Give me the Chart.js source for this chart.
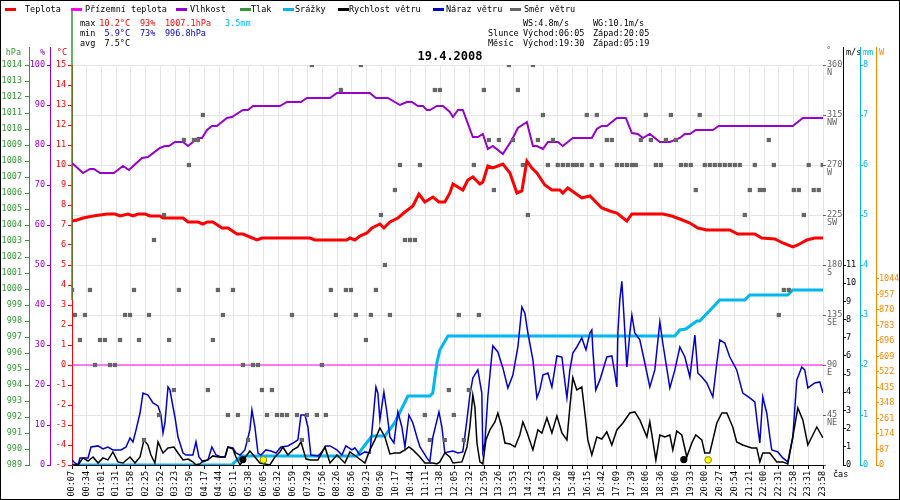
<!DOCTYPE html>
<html>
<head>
<meta charset="utf-8">
<script src="https://cdn.jsdelivr.net/npm/chart.js@4.4.0/dist/chart.umd.min.js"></script>
<style>
html, body { margin: 0; padding: 0; background: #fff; }
#wrap { width: 900px; height: 500px; position: relative; }
</style>
</head>
<body>
<div id="wrap"><canvas id="c"></canvas></div>
<script>
// x positions are label slots: 0 = 00:07 ... 51 = 23:58
const timeLabels = ['00:07','00:34','01:01','01:31','01:58','02:25','02:52','03:23','03:50','04:17',
  '04:44','05:11','05:38','06:05','06:32','06:59','07:29','07:56','08:26','08:56',
  '09:23','09:50','10:17','10:44','11:11','11:38','12:05','12:32','12:59','13:26',
  '13:53','14:23','14:53','15:20','15:48','16:15','16:42','17:09','17:39','18:06',
  '18:36','19:06','19:33','20:00','20:27','20:54','21:21','22:00','22:31','22:58',
  '23:31','23:58'];

// °C
const temperature = [[0,7.2],[0.34,7.25],[0.75,7.35],[1.43,7.45],[2.38,7.55],[2.92,7.55],[3.26,7.45],
  [3.8,7.55],[4.14,7.45],[4.48,7.55],[4.96,7.55],[5.3,7.45],[5.97,7.45],[6.18,7.35],[7.54,7.35],
  [7.88,7.15],[8.55,7.15],[8.89,7.05],[9.17,7.15],[9.57,7.15],[10.18,6.85],[10.59,6.85],[11.2,6.55],
  [11.61,6.55],[12.08,6.4],[12.56,6.25],[12.9,6.35],[16.16,6.35],[16.5,6.25],[18.67,6.25],[18.87,6.35],
  [19.21,6.25],[19.55,6.45],[20.03,6.6],[20.37,6.85],[20.91,7.05],[21.18,6.85],[21.59,7.15],[22.13,7.35],
  [22.61,7.65],[23.15,7.95],[23.56,8.55],[23.96,8.15],[24.51,8.4],[24.92,8.15],[25.32,8.15],[25.66,8.6],
  [25.87,9.05],[26.54,8.75],[26.88,9.25],[27.22,9.4],[27.7,9.05],[27.9,9.15],[28.24,9.95],[28.58,9.85],
  [29.26,10.05],[29.74,9.6],[30.21,8.6],[30.55,8.7],[30.89,10.2],[31.23,9.85],[31.57,9.6],[32.11,9.0],
  [32.59,8.75],[33.13,8.75],[33.33,8.6],[33.67,8.85],[34.15,8.6],[34.62,8.35],[35.17,8.45],[35.98,7.85],
  [36.52,7.7],[37.0,7.6],[37.68,7.2],[38.02,7.55],[39.1,7.55],[40.12,7.55],[40.73,7.45],[41.28,7.3],
  [41.96,7.1],[42.5,6.85],[43.11,6.75],[44.67,6.75],[45.21,6.55],[46.37,6.55],[46.84,6.35],[47.73,6.3],
  [48.27,6.1],[48.95,5.9],[49.29,6.0],[49.9,6.25],[50.44,6.35],[51,6.35]];

// °C, ground temperature (flat)
const groundTemp = [[0,0],[51,0]];

// %
const humidity = [[0,75.5],[0.75,73],[1.22,74],[1.49,74],[1.9,73],[2.85,73],[3.46,74.75],[3.87,73.75],
  [4.75,76.75],[5.16,77],[5.97,79.25],[6.31,79.75],[6.59,79.75],[6.99,80.75],[7.54,80.75],[7.88,79.75],
  [8.21,80.75],[8.55,81.75],[8.83,81.75],[9.17,83.75],[9.5,84.75],[9.84,84.75],[10.52,86.75],[10.86,87],
  [11.61,88.75],[11.95,88.75],[12.29,89.75],[14.12,89.75],[14.6,90.75],[15.55,90.75],[15.95,91.75],
  [17.52,91.75],[17.99,93],[20.23,93],[20.64,91.75],[21.45,91.75],[22.27,90],[22.74,90.75],[23.08,90.75],
  [23.49,89.75],[23.83,89.75],[24.1,88.75],[24.3,88.75],[24.78,89.75],[25.19,89.75],[25.66,88.25],
  [25.87,87],[26.21,88.75],[26.54,88.75],[27.22,82],[27.56,82],[27.9,82.75],[28.24,79],[28.58,79.75],
  [29.26,77.75],[29.87,81.25],[30.28,84.25],[30.89,85.75],[31.3,79.75],[31.57,79.75],[31.98,79],
  [32.32,80.75],[32.99,80.75],[33.33,79.75],[34.01,81.75],[35.3,81.75],[35.64,84],[35.98,84.75],
  [36.32,84.75],[37.0,86.75],[37.61,86.75],[38.02,83],[38.43,82.75],[38.77,81.75],[39.24,82.75],
  [39.92,80.75],[40.6,80.75],[41.28,81.75],[41.62,82.75],[41.96,82.75],[42.36,83.75],[43.52,83.75],
  [43.92,84.75],[48.95,84.75],[49.63,86.75],[51,86.75]];

// hPa
const pressure = [[0,1017.4],[0,999.3]];

// mm, running total
const rainTotal = [[0,0],[10.86,0],[11.47,0.18],[19.35,0.18],[19.69,0.32],[20.37,0.58],[21.25,0.58],
  [21.93,0.85],[22.81,1.38],[24.3,1.38],[24.5,1.44],[24.78,2.04],[24.98,2.3],[25.53,2.58],[40.94,2.58],
  [41.28,2.7],[41.68,2.72],[42.43,2.88],[42.63,2.88],[43.99,3.3],[45.69,3.3],[46.03,3.4],[48.61,3.4],
  [48.95,3.5],[51,3.5]];

// m/s
const windSpeed = [[0,0],[0.41,0],[0.75,0.39],[1.09,0.22],[1.43,0.44],[1.77,0.11],[2.1,0.39],[2.44,0.28],
  [2.78,0.72],[3.12,0.17],[3.46,0.11],[3.94,0.44],[4.28,0.11],[4.62,0.44],[4.89,1.38],[5.16,1.1],
  [5.36,0.55],[5.63,0.11],[5.84,1.27],[6.18,0.66],[6.52,0.94],[6.92,0.99],[7.2,0.66],[7.54,0.28],
  [7.88,0.33],[8.21,0.17],[8.42,0],[8.69,0.06],[8.89,0.22],[9.23,0.28],[9.57,0.5],[9.91,0.44],
  [10.39,0.44],[10.59,0.99],[10.93,0.88],[11.13,0.44],[11.41,0],[11.74,0.39],[12.08,0.77],[12.42,0.44],
  [12.76,0.11],[13.1,0.06],[13.44,0],[13.78,0.44],[14.12,0.72],[14.32,0.99],[14.66,0.55],[15.0,0.83],
  [15.34,0.99],[15.55,1.27],[15.89,0.33],[16.22,0.28],[16.7,0.28],[17.18,0.99],[17.52,0.11],[17.99,0.55],
  [18.53,0.11],[18.87,0.72],[19.35,0.44],[19.89,0.11],[20.23,0.83],[20.57,1.38],[20.91,2.04],[21.25,1.54],
  [21.59,0.61],[21.93,0.66],[22.27,0.66],[22.61,0.83],[22.88,0.99],[23.15,0.83],[23.63,0.44],[23.96,0.11],
  [24.51,0.11],[24.78,0.06],[24.98,0.17],[25.32,0.66],[25.66,0.44],[25.87,0.11],[26.48,0.17],[26.82,0.99],
  [27.02,2.09],[27.22,3.85],[27.36,3.19],[27.5,1.21],[27.7,0.17],[27.9,0.06],[28.11,1.38],[28.38,1.93],
  [28.72,2.37],[28.92,2.86],[29.19,2.09],[29.4,1.21],[29.74,1.16],[30.08,0.99],[30.41,1.65],[30.62,2.37],
  [30.89,1.82],[31.3,0.83],[31.64,1.93],[31.91,1.76],[32.25,2.59],[32.59,1.76],[32.93,2.7],[33.27,1.76],
  [33.61,1.38],[33.81,3.19],[34.01,4.8],[34.28,4.13],[34.62,4.29],[34.83,2.86],[35.03,1.38],[35.3,0.55],
  [35.64,1.54],[35.98,1.43],[36.32,1.82],[36.66,1.1],[37.0,1.93],[37.41,2.31],[37.88,2.86],[38.22,2.92],
  [38.56,2.48],[39.04,1.54],[39.24,2.37],[39.65,0.28],[39.92,1.65],[40.26,1.54],[40.6,1.65],[40.8,0.83],
  [41.07,1.87],[41.41,1.65],[41.75,0.44],[42.09,1.21],[42.36,1.65],[42.77,1.38],[42.97,0.66],[43.31,0.66],
  [43.79,2.31],[44.13,2.86],[44.47,2.86],[44.87,2.09],[45.14,1.27],[45.55,1.1],[46.16,0.94],[46.5,0.94],
  [46.71,0.17],[46.91,0.66],[47.39,0.66],[47.86,0.17],[48.27,0.17],[48.61,0.06],[48.95,1.54],[49.29,3.14],
  [49.63,2.48],[49.97,1.1],[50.58,2.09],[51,1.49]];

// m/s
const windGust = [[0,0.28],[0.2,0.11],[0.41,0],[0.54,0.39],[1.09,0.39],[1.29,0.99],[1.77,1.05],[2.1,0.88],
  [2.44,0.99],[2.78,0.83],[3.33,0.83],[3.67,0.99],[3.94,1.49],[4.14,1.27],[4.35,1.93],[4.62,2.86],
  [4.82,3.96],[5.16,3.85],[5.5,3.41],[5.84,3.25],[6.04,2.75],[6.18,1.76],[6.31,2.31],[6.52,4.29],
  [6.65,4.13],[6.86,3.19],[6.99,2.64],[7.2,1.54],[7.54,0.66],[7.74,0.55],[8.21,0.55],[8.42,1.27],
  [8.62,0.44],[8.89,0.17],[9.23,0.28],[9.5,0.99],[9.78,0.55],[10.12,0.44],[10.39,0.44],[10.59,0.99],
  [10.93,0.94],[11.13,0.66],[11.41,0.55],[11.74,0.83],[12.08,1.93],[12.22,3.03],[12.42,2.09],[12.63,0.66],
  [12.83,0.55],[13.17,0.83],[13.51,0.77],[13.85,0.66],[14.19,0.99],[14.66,1.05],[15.14,1.27],[15.34,1.38],
  [15.55,2.75],[15.82,2.75],[16.02,2.09],[16.22,0.55],[16.7,0.5],[16.97,0.72],[17.24,1.05],[17.52,1.05],
  [17.99,0.83],[18.33,0.55],[18.6,1.05],[19.01,0.83],[19.21,0.94],[19.55,0.55],[19.89,0.72],[20.23,0.66],
  [20.44,2.48],[20.64,4.29],[20.77,3.96],[20.91,2.48],[21.18,4.02],[21.39,2.86],[21.59,1.54],[21.86,1.21],
  [22.13,2.92],[22.4,2.09],[22.61,0.99],[22.88,2.75],[23.15,2.31],[23.42,1.54],[23.63,0.99],[24.1,0.39],
  [24.3,0.17],[24.51,1.54],[24.92,2.92],[25.12,2.09],[25.32,0.66],[25.53,0.72],[25.87,0.77],[26.21,0.66],
  [26.54,0.72],[26.82,2.48],[27.02,3.85],[27.22,4.79],[27.56,5.23],[27.83,3.96],[27.9,0.72],[28.04,1.21],
  [28.24,3.74],[28.51,6.05],[28.58,6.55],[28.92,6.22],[29.26,5.34],[29.6,4.24],[29.94,4.95],[30.28,6.49],
  [30.55,8.69],[30.75,8.36],[30.96,7.26],[31.3,5.78],[31.57,3.69],[31.77,4.13],[31.98,4.95],[32.32,5.06],
  [32.59,4.29],[32.93,6.0],[33.27,5.94],[33.47,4.57],[33.61,3.69],[33.81,5.23],[34.01,6.16],[34.28,6.49],
  [34.62,6.99],[34.9,6.33],[35.17,7.26],[35.3,7.43],[35.37,6.33],[35.57,4.13],[35.85,4.68],[36.32,5.94],
  [36.66,6.0],[36.86,5.06],[37.0,4.29],[37.07,7.26],[37.2,9.08],[37.34,10.1],[37.47,8.36],[37.68,5.39],
  [37.88,7.26],[38.02,8.25],[38.22,7.26],[38.56,6.88],[38.9,5.61],[39.24,4.29],[39.58,5.23],[39.92,7.87],
  [40.12,6.71],[40.6,4.24],[40.94,5.23],[41.28,6.49],[41.62,5.94],[41.96,4.84],[42.3,7.15],[42.5,5.06],
  [42.77,4.84],[43.11,4.51],[43.52,3.74],[43.79,5.61],[43.99,6.88],[44.33,6.71],[44.67,5.94],[45.14,5.23],
  [45.55,3.96],[46.03,3.69],[46.37,3.47],[46.57,2.09],[46.71,1.21],[46.91,3.74],[47.18,2.86],[47.39,1.54],
  [47.52,0.83],[47.93,0.72],[48.27,0.39],[48.61,0.17],[48.95,1.54],[49.22,4.68],[49.56,5.39],[49.76,5.23],
  [49.97,4.24],[50.44,4.51],[50.78,4.57],[51,3.96]];

// degrees
const windDir = [
  [16.29,360],[19.62,360],[29.67,360],[31.3,360],
  [18.26,337.5],[24.64,337.5],[24.98,337.5],[27.97,337.5],[30.28,337.5],
  [8.89,315],[31.98,315],[34.96,315],[35.64,315],[38.97,315],[40.67,315],[42.63,315],
  [7.6,292.5],[8.28,292.5],[8.55,292.5],[28.31,292.5],[28.99,292.5],[29.94,292.5],[31.64,292.5],
  [32.66,292.5],[36.32,292.5],[36.66,292.5],[38.63,292.5],[39.31,292.5],[40.33,292.5],[41.01,292.5],[47.32,292.5],
  [7.94,270],[22.27,270],[23.63,270],[27.29,270],[30.62,270],[32.32,270],[32.99,270],[33.33,270],[33.67,270],
  [34.01,270],[34.28,270],[34.62,270],[35.3,270],[35.98,270],[37.0,270],[37.34,270],[37.68,270],[38.02,270],
  [38.29,270],[39.65,270],[39.99,270],[41.35,270],[41.68,270],[42.02,270],[42.97,270],[43.31,270],[43.65,270],
  [43.99,270],[44.33,270],[44.67,270],[45.01,270],[45.35,270],[46.37,270],[47.66,270],[50.03,270],[50.98,270],
  [21.93,247.5],[28.65,247.5],[42.36,247.5],[46.03,247.5],[46.71,247.5],[46.98,247.5],[49.02,247.5],
  [49.36,247.5],[50.37,247.5],[50.71,247.5],
  [6.25,225],[20.98,225],[30.96,225],[45.69,225],[49.7,225],
  [5.57,202.5],[22.61,202.5],[22.95,202.5],[23.29,202.5],
  [21.25,180],
  [0,157.5],[1.22,157.5],[4.21,157.5],[7.26,157.5],[9.91,157.5],[10.93,157.5],[17.58,157.5],[18.6,157.5],
  [18.94,157.5],[20.64,157.5],[48.34,157.5],[48.68,157.5],
  [0.2,135],[0.88,135],[3.6,135],[3.94,135],[5.23,135],[10.25,135],[14.94,135],[17.92,135],[19.28,135],
  [20.3,135],[21.59,135],[26.27,135],[27.63,135],[48.0,135],
  [0.54,112.5],[1.9,112.5],[2.24,112.5],[3.26,112.5],[4.55,112.5],[6.59,112.5],[9.57,112.5],[19.96,112.5],
  [1.56,90],[2.58,90],[2.92,90],[11.61,90],[12.29,90],[12.63,90],[16.97,90],
  [6.92,67.5],[9.23,67.5],[12.9,67.5],[13.58,67.5],[25.59,67.5],[26.95,67.5],
  [5.91,45],[10.59,45],[11.27,45],[13.24,45],[13.92,45],[14.26,45],[14.6,45],[15.28,45],[15.95,45],
  [16.63,45],[17.24,45],[23.96,45],[25.93,45],
  [4.89,22.5],[11.95,22.5],[15.61,22.5],[24.3,22.5],[25.32,22.5],[26.61,22.5]];

const sunMarks = [[13.0,0.28],[43.2,0.28]];
const moonMarks = [[11.6,0.3],[41.55,0.3]];

const dirTicks = [45,90,135,180,225,270,315,360];
const dirNames = ['NE','E','SE','S','SW','W','NW','N'];
const solarTicks = [0,87,174,261,348,435,522,609,696,783,870,957,1044];

const statsMax = ['10.2°C','93%','1007.1hPa','3.5mm'];
const statsMin = ['5.9°C','73%','996.8hPa'];
const statsAvg = ['7.5°C'];
const windMax = ['WS:4.8m/s','WG:10.1m/s'];
const sunTimes = ['Východ:06:05','Západ:20:05'];
const moonTimes = ['Východ:19:30','Západ:05:19'];
const dayTitle = '19.4.2008';

const C = {
  temp: '#ff0000', ground: '#ff00ff', hum: '#9900cc', press: '#339933', rain: '#00b8f0',
  wind: '#000000', gust: '#0000cc', dir: '#666666', solar: '#ff8800', grid: '#e6e6e6'
};
const MONO = '"DejaVu Sans Mono", monospace';

const legendNames = ['Teplota','Přízemní teplota','Vlhkost','Tlak','Srážky','Rychlost větru','Náraz větru','Směr větru'];
const legendColors = [C.temp, C.ground, C.hum, C.press, C.rain, C.wind, C.gust, C.dir];
const legendSegX = [5, 71, 176, 240, 283, 338, 433, 510];
const legendTextX = [25, 85, 190, 251, 295, 349, 446, 524];

const toPts = arr => arr.map(([x, y]) => ({ x, y }));
const fixW = w => s => { s.width = w; };
const range = (a, b, step) => { const r = []; for (let v = a; v <= b + 1e-9; v += step) r.push(v); return r; };
const useTicks = vals => s => { s.ticks = vals.map(v => ({ value: v })); };

const headerPlugin = {
  id: 'header',
  afterDraw(chart) {
    const ctx = chart.ctx;
    const area = chart.chartArea;
    ctx.save();
    ctx.font = '8.5px ' + MONO;
    ctx.textBaseline = 'middle';

    // legend
    legendNames.forEach((name, i) => {
      ctx.fillStyle = legendColors[i];
      ctx.fillRect(legendSegX[i], 8, 11, 3);
      ctx.fillStyle = '#000';
      ctx.textAlign = 'left';
      ctx.fillText(name, legendTextX[i], 9.5);
    });

    // stats block
    const put = (t, x, y, col, align) => { ctx.fillStyle = col; ctx.textAlign = align || 'left'; ctx.fillText(t, x, y); };
    put('max', 80, 24, '#000'); put('min', 80, 34, '#000'); put('avg', 80, 44, '#000');
    put(statsMax[0], 130, 24, C.temp, 'right'); put(statsMax[1], 140, 24, C.temp);
    put(statsMax[2], 165, 24, C.temp); put(statsMax[3], 225, 24, C.rain);
    put(statsMin[0], 130, 34, C.gust, 'right'); put(statsMin[1], 140, 34, C.gust);
    put(statsMin[2], 165, 34, C.gust);
    put(statsAvg[0], 130, 44, '#000', 'right');
    put(windMax[0], 523, 24, '#000'); put(windMax[1], 593, 24, '#000');
    put('Slunce', 488, 34, '#000'); put(sunTimes[0], 523, 34, '#000'); put(sunTimes[1], 593, 34, '#000');
    put('Měsíc', 488, 44, '#000'); put(moonTimes[0], 523, 44, '#000'); put(moonTimes[1], 593, 44, '#000');

    // units above axes
    put('hPa', 21, 53, C.press, 'right');
    put('%', 45, 53, C.hum, 'right');
    put('°C', 67, 53, C.temp, 'right');
    put('°', 826, 51, C.dir);
    put('m/s', 846, 53, '#000');
    put('mm', 863, 53, C.rain);
    put('W', 879, 53, C.solar);
    put('čas', 833, 475, '#000');

    // axis lines continue up to the unit labels
    [['yP', C.press, 'right'], ['yH', C.hum, 'right'], ['yW', '#000', 'left'],
     ['yR', C.rain, 'left'], ['yS', C.solar, 'left']].forEach(([id, col, side]) => {
      const s = chart.scales[id];
      const x = Math.round(s[side]) + 0.5;
      ctx.strokeStyle = col; ctx.lineWidth = 1;
      ctx.beginPath(); ctx.moveTo(x, 47); ctx.lineTo(x, area.top); ctx.stroke();
    });

    // title
    ctx.font = 'bold 12px ' + MONO;
    put(dayTitle, 450, 57, '#000', 'center');

    // frame
    ctx.strokeStyle = '#000'; ctx.lineWidth = 1;
    ctx.strokeRect(0.5, 0.5, 899, 499);
    ctx.restore();
  }
};

const lineSet = (label, data, axis, color, width, order, extra) => Object.assign({
  label, data: toPts(data), yAxisID: axis, borderColor: color, backgroundColor: color,
  borderWidth: width, pointRadius: 0, pointHoverRadius: 0, tension: 0, fill: false, order
}, extra || {});

const yAxis = (pos, weight, width, min, max, ticks, color, tickLen, pad, extra) => Object.assign({
  type: 'linear', position: pos, weight, min, max,
  afterFit: fixW(width), afterBuildTicks: useTicks(ticks),
  border: { color, width: 1 },
  grid: { drawOnChartArea: false, color, tickLength: tickLen },
  ticks: { color, padding: pad, font: { family: MONO, size: 8.5 }, callback: v => String(v) }
}, extra || {});

Chart.defaults.font.family = MONO;
Chart.defaults.font.size = 8.5;

new Chart(document.getElementById('c'), {
  type: 'line',
  data: {
    datasets: [
      lineSet('Teplota', temperature, 'yT', C.temp, 3, 3),
      lineSet('Přízemní teplota', groundTemp, 'yT', C.ground, 1, 8),
      lineSet('Vlhkost', humidity, 'yH', C.hum, 2, 4),
      lineSet('Tlak', pressure, 'yP', C.press, 1.5, 9, { clip: false }),
      lineSet('Srážky', rainTotal, 'yR', C.rain, 3, 7),
      lineSet('Rychlost větru', windSpeed, 'yW', C.wind, 1.5, 5),
      lineSet('Náraz větru', windGust, 'yW', C.gust, 1.5, 6),
      lineSet('Směr větru', windDir, 'yD', C.dir, 0, 2,
        { showLine: false, pointRadius: 3, pointStyle: 'rect', backgroundColor: C.dir }),
      lineSet('Slunce', sunMarks, 'yW', '#888800', 1, 0,
        { showLine: false, pointRadius: 3.3, backgroundColor: '#ffff00', pointBorderColor: '#888800' }),
      lineSet('Měsíc', moonMarks, 'yW', '#000', 0, 0,
        { showLine: false, pointRadius: 3.6, backgroundColor: '#000' })
    ]
  },
  options: {
    responsive: true,
    maintainAspectRatio: false,
    animation: false,
    events: [],
    layout: { padding: { top: 65, left: 0, right: 0, bottom: 0 } },
    plugins: { legend: { display: false }, title: { display: false }, tooltip: { enabled: false } },
    scales: {
      x: {
        type: 'linear', min: 0, max: timeLabels.length - 1,
        afterBuildTicks: useTicks(range(0, timeLabels.length - 1, 1)),
        afterFit: s => { s.height = 35; },
        border: { color: '#000', width: 1 },
        grid: { color: C.grid, tickColor: '#000', tickLength: 4 },
        ticks: {
          color: '#000', autoSkip: false, minRotation: 90, maxRotation: 90, padding: 2,
          font: { family: MONO, size: 8.5 },
          callback: (v, i) => timeLabels[i]
        }
      },
      yT: yAxis('left', 0, 22, -5, 15, range(-5, 15, 1), C.temp, 4, 2),
      yH: yAxis('left', 1, 21, 0, 100, range(0, 100, 10), C.hum, 3, 2),
      yP: yAxis('left', 2, 29, 989, 1014, range(989, 1014, 1), C.press, 4, 3),
      yD: {
        type: 'linear', position: 'right', weight: 0, min: 0, max: 360,
        afterFit: fixW(20), afterBuildTicks: useTicks([0].concat(dirTicks)),
        border: { display: false },
        grid: { drawOnChartArea: true, color: C.grid, tickColor: C.dir, tickLength: 3 },
        ticks: {
          color: C.dir, padding: 1, font: { family: MONO, size: 8.5, lineHeight: 0.9 },
          callback: v => { const k = dirTicks.indexOf(v); return k < 0 ? '' : ['', String(v), dirNames[k]]; }
        }
      },
      yW: yAxis('right', 1, 17, 0, 22, range(0, 11, 1), '#000', 3, 0),
      yR: yAxis('right', 2, 16, 0, 8, range(0, 8, 1), C.rain, 3, 0),
      yS: yAxis('right', 3, 24, 0, 2245, solarTicks, C.solar, 3, 0)
    }
  },
  plugins: [headerPlugin]
});
</script>
</body>
</html>
